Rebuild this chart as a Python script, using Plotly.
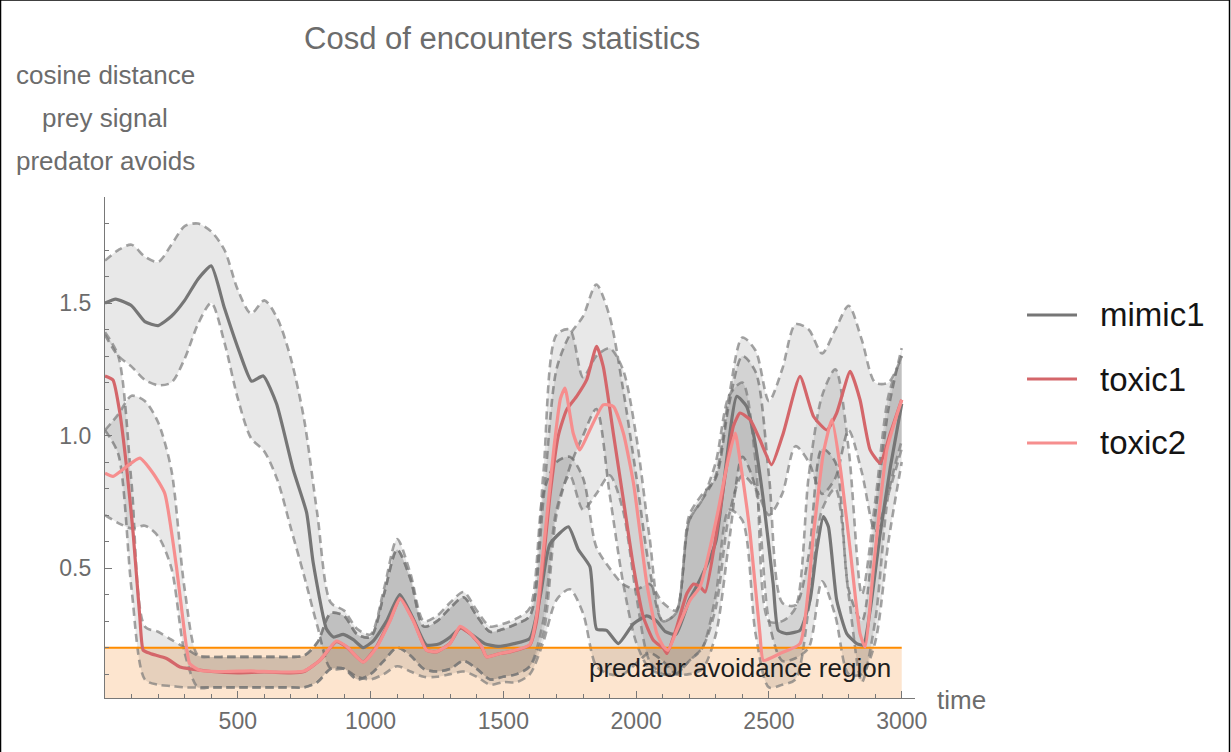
import plotly.graph_objects as go

# ---- data -------------------------------------------------------------
# sampling grid for the confidence bands
band_t = list(range(0, 3001, 50))

# mean curves (time, value)
mimic1_t = [0, 40, 100, 150, 200, 250, 300, 350, 400, 450, 508, 552, 596, 646, 709, 759, 784, 834, 860, 897,
            935, 972, 1010, 1060, 1110, 1160, 1210, 1260, 1300, 1340, 1380, 1430, 1480, 1540, 1600, 1640, 1675,
            1745, 1782, 1826, 1851, 1889, 1933, 1990, 2040, 2077, 2110, 2150, 2200, 2240, 2300, 2379, 2416, 2441,
            2479, 2516, 2535, 2566, 2617, 2655, 2680, 2705, 2724, 2755, 2793, 2831, 2856, 2881, 2919, 2957, 3000]
mimic1_mean = [1.50, 1.515, 1.49, 1.43, 1.415, 1.45, 1.51, 1.59, 1.64, 1.48, 1.31, 1.205, 1.225, 1.12, 0.87, 0.71,
               0.52, 0.27, 0.24, 0.25, 0.23, 0.20, 0.225, 0.30, 0.40, 0.31, 0.21, 0.215, 0.24, 0.275, 0.25, 0.215,
               0.205, 0.215, 0.235, 0.40, 0.59, 0.656, 0.57, 0.505, 0.27, 0.265, 0.215, 0.29, 0.32, 0.30, 0.26,
               0.25, 0.38, 0.455, 0.60, 1.148, 1.11, 1.01, 0.757, 0.44, 0.265, 0.253, 0.265, 0.38, 0.57, 0.694,
               0.656, 0.38, 0.253, 0.215, 0.21, 0.34, 0.63, 0.88, 1.12]

toxic1_t = [0, 30, 56, 81, 106, 131, 144, 170, 232, 282, 320, 400, 500, 600, 700, 750, 809, 871, 909, 972, 1022,
            1073, 1111, 1161, 1211, 1249, 1299, 1337, 1374, 1418, 1437, 1488, 1525, 1600, 1625, 1650, 1675, 1707,
            1738, 1776, 1814, 1851, 1876, 1914, 1952, 1990, 2027, 2065, 2103, 2116, 2153, 2191, 2216, 2241, 2260,
            2316, 2366, 2391, 2429, 2466, 2510, 2554, 2617, 2668, 2718, 2755, 2806, 2843, 2881, 2919, 2957, 3000]
toxic1_mean = [1.225, 1.21, 1.085, 0.883, 0.631, 0.316, 0.19, 0.178, 0.159, 0.127, 0.12, 0.11, 0.105, 0.108,
               0.105, 0.11, 0.152, 0.222, 0.203, 0.146, 0.203, 0.304, 0.386, 0.304, 0.19, 0.184, 0.216, 0.275,
               0.253, 0.203, 0.165, 0.178, 0.184, 0.21, 0.30, 0.52, 0.77, 1.0, 1.097, 1.148, 1.211, 1.337, 1.261,
               1.009, 0.757, 0.505, 0.316, 0.228, 0.197, 0.178, 0.278, 0.404, 0.44, 0.43, 0.41, 0.72, 1.035, 1.085,
               1.06, 0.984, 0.89, 1.009, 1.223, 1.072, 1.021, 1.085, 1.242, 1.135, 0.946, 0.896, 1.009, 1.135]

toxic2_t = [0, 30, 81, 131, 181, 225, 269, 300, 319, 357, 450, 550, 650, 750, 809, 871, 909, 972, 1022, 1073,
            1111, 1161, 1211, 1249, 1299, 1337, 1374, 1418, 1437, 1488, 1525, 1600, 1625, 1650, 1690, 1715, 1732,
            1763, 1788, 1826, 1876, 1914, 1952, 1990, 2015, 2040, 2078, 2103, 2120, 2153, 2203, 2241, 2304, 2341,
            2373, 2391, 2429, 2466, 2479, 2542, 2617, 2668, 2705, 2737, 2768, 2806, 2843, 2862, 2894, 2944, 3000]
toxic2_mean = [0.858, 0.846, 0.883, 0.915, 0.858, 0.782, 0.505, 0.253, 0.14, 0.115, 0.11, 0.112, 0.108, 0.112,
               0.152, 0.225, 0.205, 0.145, 0.20, 0.30, 0.385, 0.30, 0.19, 0.185, 0.215, 0.28, 0.255, 0.205, 0.165,
               0.178, 0.185, 0.212, 0.32, 0.56, 0.95, 1.14, 1.179, 1.009, 0.946, 1.022, 1.116, 1.11, 1.009, 0.82,
               0.631, 0.442, 0.253, 0.203, 0.19, 0.265, 0.379, 0.43, 0.694, 0.883, 1.009, 0.908, 0.631, 0.253,
               0.152, 0.178, 0.215, 0.631, 0.934, 1.06, 0.883, 0.568, 0.253, 0.203, 0.505, 0.946, 1.135]

# band limits on band_t
mimic1_lo = [1.38, 1.30, 1.26, 1.21, 1.19, 1.20, 1.29, 1.42, 1.50, 1.35,
             1.14, 0.99, 0.94, 0.83, 0.65, 0.47, 0.28, 0.12, 0.12, 0.09,
             0.08, 0.10, 0.13, 0.11, 0.09, 0.09, 0.10, 0.11, 0.09, 0.06,
             0.07, 0.07, 0.10, 0.22, 0.38, 0.42, 0.33, 0.13, 0.10, 0.10,
             0.14, 0.18, 0.15, 0.10, 0.10, 0.12, 0.25, 0.60, 0.92, 0.80,
             0.30, 0.15, 0.16, 0.20, 0.45, 0.32, 0.10, 0.10, 0.22, 0.60,
             0.90]
mimic1_hi = [1.66, 1.70, 1.72, 1.675, 1.655, 1.72, 1.79, 1.80, 1.77, 1.70,
             1.55, 1.46, 1.51, 1.44, 1.29, 1.06, 0.70, 0.37, 0.34, 0.27,
             0.25, 0.42, 0.61, 0.48, 0.30, 0.32, 0.37, 0.41, 0.34, 0.28,
             0.29, 0.31, 0.35, 0.78, 0.90, 0.92, 0.84, 0.58, 0.50, 0.44,
             0.42, 0.44, 0.37, 0.34, 0.70, 0.78, 0.84, 1.12, 1.30, 1.24,
             0.85, 0.37, 0.36, 0.55, 0.95, 0.90, 0.42, 0.30, 0.70, 1.10,
             1.33]
toxic1_lo = [1.02, 0.93, 0.42, 0.08, 0.06, 0.055, 0.05, 0.05, 0.05, 0.05,
             0.05, 0.05, 0.05, 0.05, 0.05, 0.05, 0.07, 0.12, 0.12, 0.08,
             0.10, 0.15, 0.20, 0.17, 0.12, 0.11, 0.12, 0.15, 0.12, 0.08,
             0.09, 0.10, 0.13, 0.25, 0.70, 0.88, 1.00, 1.10, 0.78, 0.45,
             0.22, 0.12, 0.10, 0.10, 0.15, 0.20, 0.35, 0.70, 0.85, 0.80,
             0.70, 0.78, 0.96, 0.90, 0.78, 0.84, 1.02, 0.86, 0.64, 0.78,
             0.95]
toxic1_hi = [1.39, 1.30, 0.82, 0.28, 0.26, 0.23, 0.20, 0.17, 0.165, 0.165,
             0.165, 0.165, 0.165, 0.165, 0.165, 0.17, 0.22, 0.33, 0.32, 0.25,
             0.24, 0.40, 0.57, 0.46, 0.28, 0.30, 0.35, 0.39, 0.32, 0.26,
             0.27, 0.29, 0.32, 0.75, 1.25, 1.38, 1.45, 1.57, 1.45, 1.18,
             0.85, 0.50, 0.30, 0.33, 0.68, 0.76, 0.85, 1.15, 1.37, 1.32,
             1.13, 1.25, 1.42, 1.40, 1.31, 1.40, 1.49, 1.36, 1.20, 1.20,
             1.30]
toxic2_lo = [0.70, 0.67, 0.65, 0.66, 0.62, 0.50, 0.18, 0.05, 0.05, 0.05,
             0.05, 0.05, 0.05, 0.05, 0.05, 0.05, 0.07, 0.12, 0.12, 0.08,
             0.10, 0.15, 0.20, 0.17, 0.12, 0.11, 0.12, 0.15, 0.12, 0.08,
             0.09, 0.10, 0.13, 0.30, 0.72, 0.85, 0.72, 0.78, 0.85, 0.72,
             0.40, 0.15, 0.10, 0.10, 0.15, 0.20, 0.40, 0.72, 0.68, 0.25,
             0.05, 0.06, 0.08, 0.35, 0.72, 0.80, 0.40, 0.07, 0.30, 0.78,
             0.98]
toxic2_hi = [1.02, 1.08, 1.15, 1.13, 1.05, 0.87, 0.42, 0.17, 0.165, 0.165,
             0.165, 0.165, 0.165, 0.165, 0.165, 0.17, 0.22, 0.33, 0.32, 0.25,
             0.24, 0.40, 0.57, 0.46, 0.28, 0.30, 0.35, 0.39, 0.32, 0.26,
             0.27, 0.29, 0.32, 0.85, 1.38, 1.40, 1.22, 1.30, 1.33, 1.25,
             1.00, 0.62, 0.30, 0.33, 0.68, 0.76, 0.90, 1.15, 1.20, 0.90,
             0.30, 0.30, 0.35, 0.85, 1.15, 1.25, 0.95, 0.40, 0.75, 1.15,
             1.30]

avoid_threshold = 0.2
avoid_span = [0, 3000]

series = [
    ("mimic1", mimic1_t, mimic1_mean, mimic1_lo, mimic1_hi, "rgb(118,118,118)"),
    ("toxic1", toxic1_t, toxic1_mean, toxic1_lo, toxic1_hi, "rgb(212,102,106)"),
    ("toxic2", toxic2_t, toxic2_mean, toxic2_lo, toxic2_hi, "rgb(246,142,142)"),
]

FONT = "Liberation Sans"
TXT_GREY = "rgb(108,108,108)"
AX_GREY = "rgb(120,120,120)"
BAND_FILL = "rgba(0,0,0,0.09)"
BAND_EDGE = dict(color="rgba(120,120,120,0.68)", width=2.6, dash="8px,5px", shape="spline", smoothing=0.8)

fig = go.Figure()

# shaded bands with dashed limits
for name, t, m, lo, hi, col in series:
    fig.add_trace(go.Scatter(x=band_t, y=lo, mode="lines", line=BAND_EDGE,
                             showlegend=False, hoverinfo="skip"))
    fig.add_trace(go.Scatter(x=band_t, y=hi, mode="lines", line=BAND_EDGE, fill="tonexty",
                             fillcolor=BAND_FILL, showlegend=False, hoverinfo="skip"))

# predator avoidance threshold
fig.add_trace(go.Scatter(x=avoid_span, y=[avoid_threshold, avoid_threshold], mode="lines",
                         line=dict(color="rgb(255,140,0)", width=2), showlegend=False, hoverinfo="skip"))

# mean curves
for name, t, m, lo, hi, col in series:
    fig.add_trace(go.Scatter(x=t, y=m, mode="lines", name=name, showlegend=False,
                             line=dict(color=col, width=3.2, shape="spline", smoothing=0.5)))

# avoidance region fill
fig.add_shape(type="rect", xref="x", yref="y", x0=avoid_span[0], x1=avoid_span[1],
              y0=0.01, y1=avoid_threshold, fillcolor="rgb(253,229,207)", line_width=0, layer="below")

fig.add_annotation(x=2967, y=0.122, xref="x", yref="y", text="predator avoidance region",
                   showarrow=False, xanchor="right", yanchor="middle",
                   font=dict(family=FONT, size=26, color="rgb(30,30,30)"))

# legend: colour key on the right
legend_rows = [0.7645, 0.6367, 0.5090]
for (name, t, m, lo, hi, col), ly in zip(series, legend_rows):
    fig.add_shape(type="line", xref="paper", yref="paper", x0=1.1383, x1=1.2, y0=ly, y1=ly,
                  line=dict(color=col, width=3.2))
    fig.add_annotation(x=1.2259, y=ly, xref="paper", yref="paper", text=name, showarrow=False,
                       xanchor="left", yanchor="middle",
                       font=dict(family=FONT, size=33, color="rgb(20,20,20)"))

# title and axis labels
fig.add_annotation(x=0.49, y=1.317, xref="paper", yref="paper", text="Cosd of encounters statistics",
                   showarrow=False, xanchor="center", yanchor="middle",
                   font=dict(family=FONT, size=31, color=TXT_GREY))
for label, py in [("cosine distance", 1.2435), ("prey signal", 1.1577), ("predator avoids", 1.0719)]:
    fig.add_annotation(x=0.0, y=py, xref="paper", yref="paper", text=label, showarrow=False,
                       xanchor="center", yanchor="middle", font=dict(family=FONT, size=26, color=TXT_GREY))
fig.add_annotation(x=1.058, y=-0.004, xref="paper", yref="paper", text="time", showarrow=False,
                   xanchor="center", yanchor="middle", font=dict(family=FONT, size=26, color=TXT_GREY))

# outer frame
for x0, y0, x1, y1 in [(-0.1290, -0.1078, -0.1290, 1.3932), (-0.1290, 1.3932, 1.3883, 1.3932),
                       (1.3883, -0.1078, 1.3883, 1.3932)]:
    fig.add_shape(type="line", xref="paper", yref="paper", x0=x0, y0=y0, x1=x1, y1=y1,
                  line=dict(color="black", width=1.5))

axis_common = dict(showgrid=False, zeroline=False, showline=True, linecolor=AX_GREY,
                   linewidth=1.3, ticks="inside", tickcolor=AX_GREY, ticklen=7, tickwidth=1.3,
                   tickfont=dict(family=FONT, size=23, color=TXT_GREY))

fig.update_xaxes(range=[0, 3050], tickvals=[500, 1000, 1500, 2000, 2500, 3000],
                 minor=dict(dtick=100, tick0=0, ticks="inside", ticklen=4, tickcolor=AX_GREY),
                 ticklabelstandoff=2, **axis_common)
fig.update_yaxes(range=[0.01, 1.9], tickvals=[0.5, 1.0, 1.5], ticktext=["0.5", "1.0", "1.5"],
                 minor=dict(dtick=0.1, tick0=0, ticks="inside", ticklen=4, tickcolor=AX_GREY),
                 ticklabelstandoff=8, **axis_common)

fig.update_layout(
    width=1231, height=752,
    margin=dict(l=105, r=316, t=197, b=54),
    paper_bgcolor="white", plot_bgcolor="white",
    showlegend=False,
    hovermode=False,
)

fig.write_html("out.html")
